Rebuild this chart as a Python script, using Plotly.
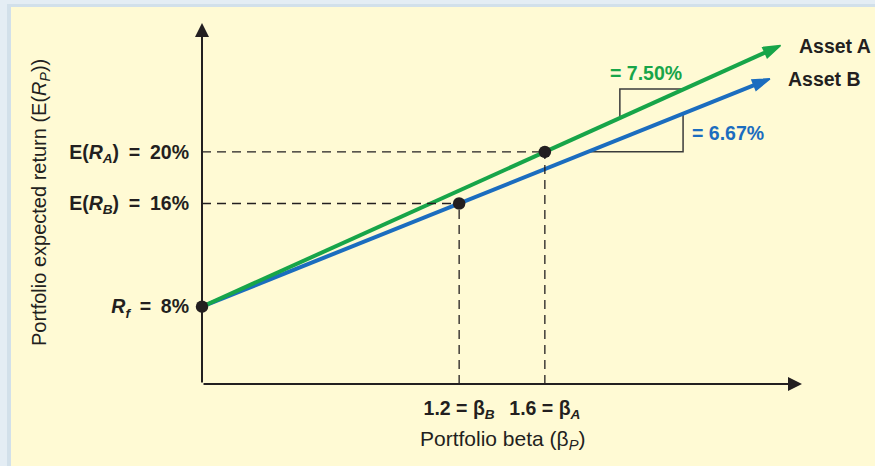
import plotly.graph_objects as go

# ------------------------------------------------------------
# Portfolio beta vs expected return for two assets priced off Rf
# ------------------------------------------------------------

rf = 8
asset_names = ["Asset A", "Asset B"]
asset_beta = [1.6, 1.2]
asset_return = [20, 16]
asset_slope = [7.50, 6.67]

# each line runs from Rf through the asset point out to the arrow tip
line_a_beta = [0, 1.6, 2.7]
line_a_return = [8, 20, 28.25]
line_b_beta = [0, 1.2, 2.65]
line_b_return = [8, 16, 25.67]

EQ = "\u2002=\u2002"
y_tickvals = [8, 16, 20]
y_ticktext = [
    f"<i>R<sub>f</sub></i>{EQ}8%",
    f"E(<i>R<sub>B</sub></i>){EQ}16%",
    f"E(<i>R<sub>A</sub></i>){EQ}20%",
]
x_tickvals = [1.2, 1.6]
x_ticktext = ["1.2 = β<sub><i>B</i></sub>", "1.6 = β<sub><i>A</i></sub>"]

# ------------------------------------------------------------
# styling
# ------------------------------------------------------------
GREEN = "#17a549"
BLUE = "#1b6dbf"
INK = "#231f20"
PANEL = "#fffad4"
FONT = "Liberation Sans, Arial, sans-serif"
X_RANGE = [0, 2.8]
Y_RANGE = [2, 30]


def line_y(slope, beta):
    return rf + slope * beta


fig = go.Figure()

# pixel helpers for the frame and titles
W, H = 875, 466
L, R, T, B = 202, 73, 23, 82
pw, ph = W - L - R, H - T - B


def px(xp):
    return (xp - L) / pw


def py(yp):
    return (H - B - yp) / ph


# light blue border on top / left of the yellow panel
shapes = [
    dict(type="rect", xref="paper", yref="paper", x0=px(0), x1=px(W), y0=py(7), y1=py(0),
         fillcolor="#e4edf4", line_width=0, layer="below"),
    dict(type="rect", xref="paper", yref="paper", x0=px(0), x1=px(11), y0=py(H), y1=py(0),
         fillcolor="#e4edf4", line_width=0, layer="below"),
    dict(type="rect", xref="paper", yref="paper", x0=px(7), x1=px(11), y0=py(H), y1=py(4),
         fillcolor="#d2e0ea", line_width=0, layer="below"),
    dict(type="rect", xref="paper", yref="paper", x0=px(7), x1=px(W), y0=py(7), y1=py(4),
         fillcolor="#d2e0ea", line_width=0, layer="below"),
]

# dashed guides from the axes to each asset point
for b, r in zip(asset_beta, asset_return):
    shapes.append(dict(type="line", x0=X_RANGE[0], x1=b, y0=r, y1=r,
                       line=dict(color=INK, width=1.3, dash="9px,6px")))
    shapes.append(dict(type="line", x0=b, x1=b, y0=Y_RANGE[0], y1=r,
                       line=dict(color=INK, width=1.3, dash="9px,6px")))

# slope triangles
tri_a = [1.95, 2.25]
tri_b = [1.80, 2.245]
fig.add_trace(go.Scatter(
    x=[tri_a[0], tri_a[0], tri_a[1]],
    y=[line_y(asset_slope[0], tri_a[0]), line_y(asset_slope[0], tri_a[1]),
       line_y(asset_slope[0], tri_a[1])],
    mode="lines", line=dict(color="#3b3b3b", width=1.5),
    hoverinfo="skip", showlegend=False,
))
fig.add_trace(go.Scatter(
    x=[tri_b[0], tri_b[1], tri_b[1]],
    y=[line_y(asset_slope[1], tri_b[0]), line_y(asset_slope[1], tri_b[0]),
       line_y(asset_slope[1], tri_b[1])],
    mode="lines", line=dict(color="#3b3b3b", width=1.5),
    hoverinfo="skip", showlegend=False,
))

# the two lines with arrow heads at the end
for xs, ys, col in [(line_b_beta, line_b_return, BLUE), (line_a_beta, line_a_return, GREEN)]:
    fig.add_trace(go.Scatter(
        x=xs, y=ys, mode="lines+markers",
        line=dict(color=col, width=4),
        marker=dict(symbol="arrow", angleref="previous", size=[0] * (len(xs) - 1) + [18],
                    color=col, opacity=1, line=dict(color=col, width=1.5)),
        cliponaxis=False, hoverinfo="skip", showlegend=False,
    ))

# asset points and Rf
fig.add_trace(go.Scatter(
    x=[0] + asset_beta, y=[rf] + asset_return, mode="markers",
    marker=dict(size=12.5, color=INK), cliponaxis=False,
    hoverinfo="skip", showlegend=False,
))

annotations = []

# axes drawn as arrows
annotations.append(dict(x=X_RANGE[1], y=Y_RANGE[0], ax=X_RANGE[0], ay=Y_RANGE[0],
                        xref="x", yref="y", axref="x", ayref="y", text="",
                        showarrow=True, arrowhead=2, arrowsize=1.4, arrowwidth=2,
                        arrowcolor=INK))
annotations.append(dict(x=X_RANGE[0], y=Y_RANGE[1], ax=X_RANGE[0], ay=Y_RANGE[0],
                        xref="x", yref="y", axref="x", ayref="y", text="",
                        showarrow=True, arrowhead=2, arrowsize=1.4, arrowwidth=2,
                        arrowcolor=INK))

label_font = dict(size=19.5, color=INK, family=FONT, weight="bold")

# line names at the arrow tips
annotations.append(dict(x=line_a_beta[-1], y=line_a_return[-1], text=asset_names[0],
                        xanchor="left", yanchor="middle", xshift=16, showarrow=False,
                        font=label_font))
annotations.append(dict(x=line_b_beta[-1], y=line_b_return[-1], text=asset_names[1],
                        xanchor="left", yanchor="middle", xshift=16, showarrow=False,
                        font=label_font))

# slope labels
annotations.append(dict(x=tri_a[1], y=line_y(asset_slope[0], tri_a[1]),
                        text=f"= {asset_slope[0]:.2f}%",
                        xanchor="right", yanchor="bottom", yshift=3, showarrow=False,
                        font=dict(label_font, color=GREEN)))
annotations.append(dict(x=tri_b[1],
                        y=(line_y(asset_slope[1], tri_b[0]) + line_y(asset_slope[1], tri_b[1])) / 2,
                        text=f"= {asset_slope[1]:.2f}%",
                        xanchor="left", yanchor="middle", xshift=7,
                        showarrow=False, font=dict(label_font, color=BLUE)))

# axis titles
annotations.append(dict(x=px(40), y=py(203), xref="paper", yref="paper",
                        xanchor="center", yanchor="middle",
                        text="Portfolio expected return (E(<i>R<sub>P</sub></i>))",
                        textangle=-90, showarrow=False,
                        font=dict(size=20, color=INK, family=FONT)))
annotations.append(dict(x=px(502), y=py(440), xref="paper", yref="paper",
                        xanchor="center", yanchor="middle",
                        text="Portfolio beta (β<sub><i>P</i></sub>)",
                        showarrow=False, font=dict(size=21, color=INK, family=FONT)))

fig.update_layout(
    width=W, height=H,
    margin=dict(l=L, r=R, t=T, b=B),
    paper_bgcolor=PANEL, plot_bgcolor=PANEL,
    shapes=shapes, annotations=annotations,
    font=dict(family=FONT, color=INK),
    xaxis=dict(range=X_RANGE, showgrid=False, zeroline=False, showline=False,
               tickvals=x_tickvals, ticktext=x_ticktext, ticks="",
               ticklabelstandoff=10, tickfont=label_font),
    yaxis=dict(range=Y_RANGE, showgrid=False, zeroline=False, showline=False,
               tickvals=y_tickvals, ticktext=y_ticktext, ticks="",
               ticklabelstandoff=12, tickfont=label_font),
)

fig.write_html("out.html", config={"displayModeBar": False},
               post_script="document.body.style.margin='0px';")
